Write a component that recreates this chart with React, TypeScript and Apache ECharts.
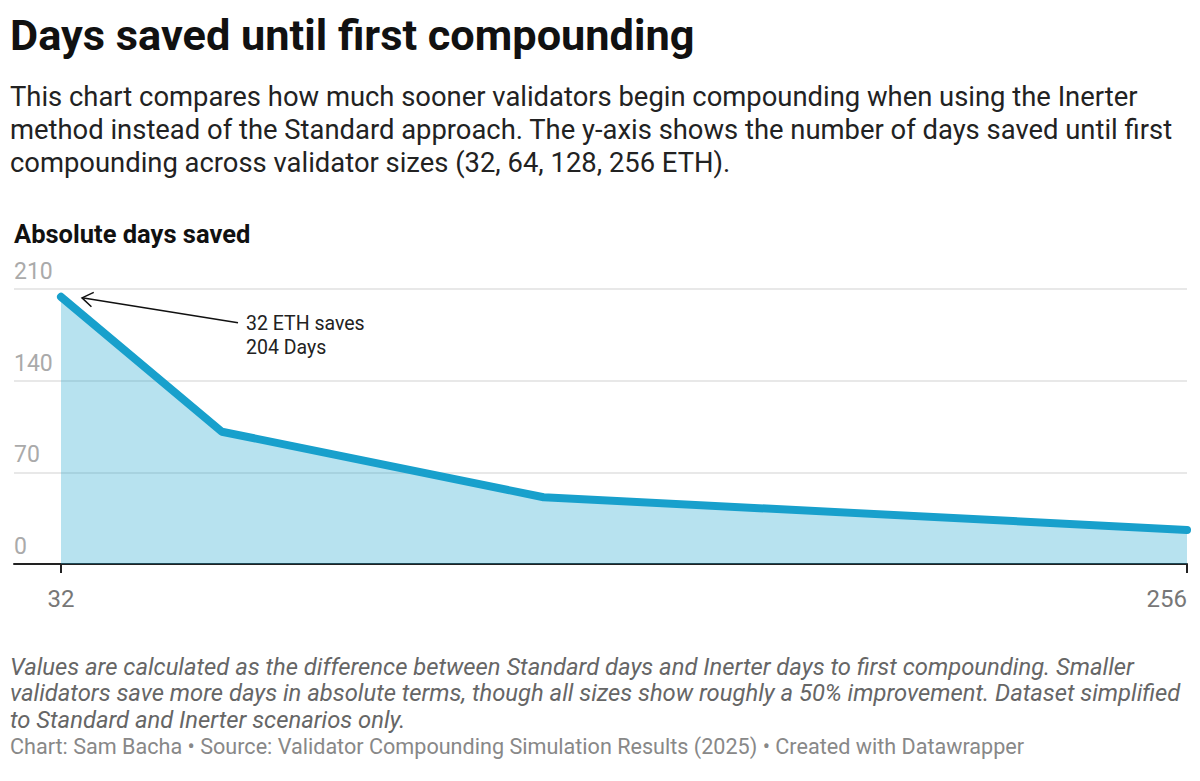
import React, { useEffect, useRef } from "react";
import * as echarts from "echarts";

const validatorSizes = [32, 64, 128, 256];
const daysSaved = [204, 101, 51, 26];
const xTickValues = [32, 256];
const yTicks = { min: 0, max: 210, interval: 70 };

const TITLE = "Days saved until first compounding";
const SUBTITLE = [
  "This chart compares how much sooner validators begin compounding when using the Inerter",
  "method instead of the Standard approach. The y-axis shows the number of days saved until first",
  "compounding across validator sizes (32, 64, 128, 256 ETH).",
];
const AXIS_TITLE = "Absolute days saved";
const NOTES = [
  "Values are calculated as the difference between Standard days and Inerter days to first compounding. Smaller",
  "validators save more days in absolute terms, though all sizes show roughly a 50% improvement. Dataset simplified",
  "to Standard and Inerter scenarios only.",
];
const SOURCE = "Chart: Sam Bacha • Source: Validator Compounding Simulation Results (2025) • Created with Datawrapper";
const ANNOTATION = ["32 ETH saves", "204 Days"];

const LINE = "#18a0cc";
const FONT = "Roboto, 'Noto Sans', sans-serif";

export default function App() {
  const ref = useRef<HTMLDivElement>(null);
  useEffect(() => {
    if (!ref.current) return;
    document.body.style.margin = "0";
    const chart = echarts.init(ref.current, undefined, { renderer: "svg" });
    const gridLeft = 14;
    const gridRight = 13;
    const gridWidth = 1200 - gridLeft - gridRight;
    const firstOffset = 47;
    const xMax = validatorSizes[validatorSizes.length - 1];
    const xFirst = validatorSizes[0];
    const xMin = xFirst - (firstOffset * (xMax - xFirst)) / (gridWidth - firstOffset);

    chart.setOption({
      animation: false,
      textStyle: { fontFamily: FONT },
      grid: { left: gridLeft, right: gridRight, top: 289, bottom: 781 - 564, containLabel: false },
      xAxis: {
        type: "value",
        min: xMin,
        max: xMax,
        axisLine: { show: true, onZero: false, lineStyle: { color: "#222", width: 2 } },
        axisTick: { show: true, length: 9, customValues: xTickValues, lineStyle: { color: "#222", width: 2 } },
        axisLabel: {
          customValues: xTickValues,
          color: "#777",
          fontSize: 24,
          fontFamily: FONT,
          margin: 23,
          alignMaxLabel: "right",
        },
        splitLine: { show: false },
      },
      yAxis: {
        type: "value",
        min: yTicks.min,
        max: yTicks.max,
        interval: yTicks.interval,
        axisLine: { show: false },
        axisTick: { show: false },
        axisLabel: {
          inside: true,
          margin: 0,
          color: "#aaa",
          fontSize: 23,
          fontFamily: FONT,
          verticalAlign: "bottom",
          padding: [0, 0, 6, 0],
        },
        splitLine: { show: true, lineStyle: { color: "#e0e0e0", width: 1.5 } },
      },
      series: [
        {
          type: "line",
          data: validatorSizes.map((x, i) => [x, daysSaved[i]]),
          symbol: "none",
          lineStyle: { color: LINE, width: 8, cap: "round", join: "round" },
          areaStyle: { color: "rgba(24,160,204,0.31)", opacity: 1, origin: "start" },
          z: 3,
        },
      ],
    });

    const tip = chart.convertToPixel({ xAxisIndex: 0, yAxisIndex: 0 }, [validatorSizes[0], daysSaved[0]]) as number[];
    const tx = tip[0] + 21;
    const ty = tip[1] + 1;
    const ex = tx + 156;
    const ey = ty + 25;
    const ang = Math.atan2(ey - ty, ex - tx);
    const head = 13;
    const spread = 0.6;
    const a1 = [tx + head * Math.cos(ang - spread), ty + head * Math.sin(ang - spread)];
    const a2 = [tx + head * Math.cos(ang + spread), ty + head * Math.sin(ang + spread)];

    chart.setOption({
      graphic: [
        {
          type: "text",
          x: 10,
          y: 35,
          style: { text: TITLE, font: `bold 43.3px ${FONT}`, fill: "#111", verticalAlign: "middle" },
        },
        {
          type: "text",
          x: 10,
          y: 80.3,
          style: { text: SUBTITLE.join("\n"), font: `27.4px ${FONT}`, lineHeight: 33, fill: "#222", verticalAlign: "top" },
        },
        {
          type: "text",
          x: 14,
          y: 233.5,
          style: { text: AXIS_TITLE, font: `bold 25.5px ${FONT}`, fill: "#111", verticalAlign: "middle" },
        },
        {
          type: "text",
          x: 246,
          y: 311,
          style: { text: ANNOTATION.join("\n"), font: `19.5px ${FONT}`, lineHeight: 24.5, fill: "#222", verticalAlign: "top" },
        },
        {
          type: "line",
          shape: { x1: ex, y1: ey, x2: tx, y2: ty },
          style: { stroke: "#111", lineWidth: 1.5 },
          z: 10,
        },
        {
          type: "polyline",
          shape: { points: [a1, [tx, ty], a2] },
          style: { stroke: "#111", lineWidth: 1.5, fill: null },
          z: 10,
        },
        {
          type: "text",
          x: 10,
          y: 653.2,
          style: { text: NOTES.join("\n"), font: `italic 23.8px ${FONT}`, lineHeight: 26.8, fill: "#666", verticalAlign: "top" },
        },
        {
          type: "text",
          x: 10,
          y: 746,
          style: { text: SOURCE, font: `21.6px ${FONT}`, fill: "#888", verticalAlign: "middle" },
        },
      ],
    });

    return () => chart.dispose();
  }, []);
  return <div ref={ref} style={{ width: 1200, height: 781, position: "absolute", left: 0, top: 0 }} />;
}
